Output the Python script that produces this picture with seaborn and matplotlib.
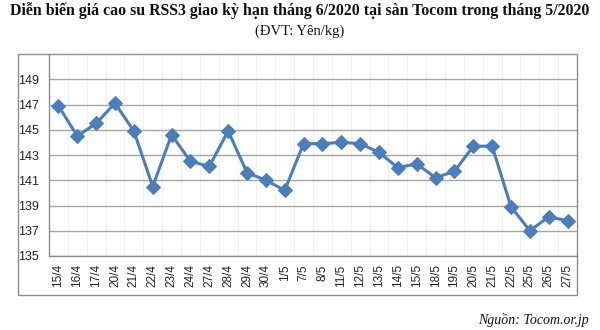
import matplotlib
matplotlib.use("Agg")
import matplotlib.pyplot as plt
import seaborn as sns
import pandas as pd
import numpy as np
from matplotlib.patches import Rectangle

dates = ["15/4", "16/4", "17/4", "20/4", "21/4", "22/4", "23/4", "24/4", "27/4", "28/4",
         "29/4", "30/4", "1/5", "7/5", "8/5", "11/5", "12/5", "13/5", "14/5", "15/5",
         "18/5", "19/5", "20/5", "21/5", "22/5", "25/5", "26/5", "27/5"]
prices = [146.9, 144.5, 145.5, 147.1, 144.9, 140.5, 144.6, 142.5, 142.1, 144.9,
          141.6, 141.0, 140.2, 143.9, 143.9, 144.0, 143.9, 143.2, 142.0, 142.3,
          141.2, 141.7, 143.7, 143.7, 138.9, 137.0, 138.1, 137.8]
y_ticks = [135, 137, 139, 141, 143, 145, 147, 149]

title = "Diễn biến giá cao su RSS3 giao kỳ hạn tháng 6/2020 tại sàn Tocom trong tháng 5/2020"
subtitle = "(ĐVT: Yên/kg)"
source = "Nguồn: Tocom.or.jp"

sns.set_theme(style="white")
plt.rcParams['font.family'] = ['Liberation Sans', 'DejaVu Sans']

df = pd.DataFrame({"pos": np.arange(len(dates)), "price": prices})

fig = plt.figure(figsize=(6, 3.3), dpi=100)
fig.patch.set_facecolor("white")

# outer chart frame
fig.patches.append(Rectangle((18/600, 1-295/330), 559/600, 241/330, transform=fig.transFigure,
                             fill=False, edgecolor="#8c8c8c", linewidth=1.0, zorder=0))

ax = fig.add_axes([49/600, 1-256/330, 528/600, 202/330])
sns.lineplot(data=df, x="pos", y="price", ax=ax, color="#4a7ebb", linewidth=2.2,
             marker="D", markersize=7, markeredgecolor="#4a7ebb", zorder=3)

ax.set_xlim(-0.5, len(dates) - 0.5)
ax.set_ylim(135, 151)
ax.set_yticks(y_ticks)
ax.set_yticklabels([str(v) for v in y_ticks], fontsize=9, color="#222222")
ax.set_xticks(np.arange(len(dates)))
ax.set_xticklabels(dates, rotation=90, fontsize=8.5, color="#222222")
ax.tick_params(axis="x", length=0, pad=6)
ax.tick_params(axis="y", length=0, pad=7)
ax.set_xticks(np.arange(len(dates) + 1) - 0.5, minor=True)
ax.tick_params(axis="x", which="minor", length=5, color="#8c8c8c", width=0.8, direction="out")
ax.grid(axis="y", color="#a6a6a6", linewidth=1.0)
ax.grid(axis="x", which="minor", color="#eeeeee", linewidth=0.6)
ax.set_axisbelow(True)
ax.set_xlabel("")
ax.set_ylabel("")
for s in ["top", "right"]:
    ax.spines[s].set_visible(False)
for s in ["left", "bottom"]:
    ax.spines[s].set_color("#8c8c8c")
    ax.spines[s].set_linewidth(1.0)

fig.text(0.5, 1-11/330, title, ha="center", va="center", fontsize=11.4, fontweight="bold",
         family=["Liberation Serif", "DejaVu Serif"], color="#111111")
fig.text(0.5, 1-31/330, subtitle, ha="center", va="center", fontsize=10.5,
         family=["Liberation Serif", "DejaVu Serif"], color="#111111")
fig.text(589/600, 1-320/330, source, ha="right", va="center", fontsize=10, style="italic",
         family=["Liberation Serif", "DejaVu Serif"], color="#111111")

fig.savefig("out.png", dpi=100, facecolor="white")
